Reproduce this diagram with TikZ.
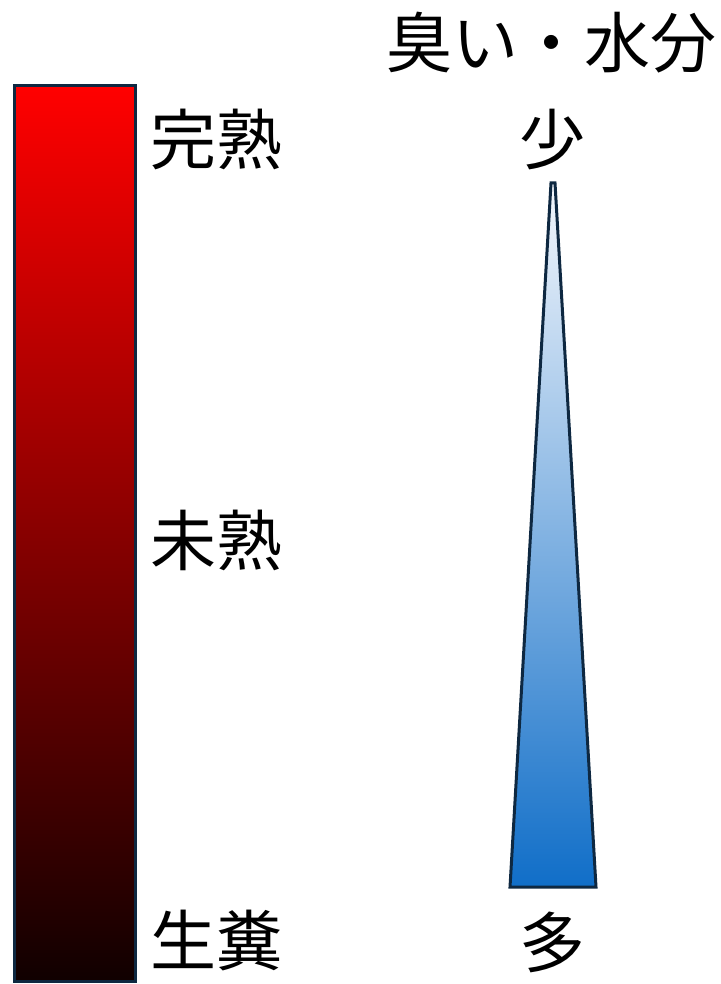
\documentclass[tikz,border=0pt]{standalone}
\usepackage{fontspec}
\newfontfamily\cjk{Noto Sans CJK JP}
\definecolor{edge}{RGB}{14,40,65}
\definecolor{redtop}{RGB}{255,0,0}
\definecolor{redmid}{RGB}{168,0,0}
\definecolor{redbot}{RGB}{16,0,0}
\definecolor{bluetop}{RGB}{244,247,252}
\definecolor{bluemid}{RGB}{162,182,222}
\definecolor{bluebot}{RGB}{16,110,200}
\begin{document}
\begin{tikzpicture}[x=1pt,y=-1pt,
  lbl/.style={font=\cjk\fontsize{66}{70}\selectfont, inner sep=0pt},
  frame/.style={draw=edge, line width=3pt, line join=miter}]
\useasboundingbox (0,0) rectangle (720,984);
% bar
\path[top color=redtop, middle color=redmid, bottom color=redbot, frame] (14,86) rectangle (135,981);
% triangle
\path[top color=bluetop, middle color=bluemid, bottom color=bluebot, frame]
  (551,183) -- (555,183) -- (596,887) -- (510,887) -- cycle;
% labels
\node[lbl, anchor=base west] (title) at (386,68) {臭い・水分};
\node[lbl, anchor=base west] (kan) at (150,165) {完熟};
\node[lbl, anchor=base west] (mi) at (150,565) {未熟};
\node[lbl, anchor=base west] (sei) at (150,965) {生糞};
\node[lbl, anchor=base] (sho) at (552,165) {少};
\node[lbl, anchor=base] (ta) at (552,967) {多};
\end{tikzpicture}
\end{document}
